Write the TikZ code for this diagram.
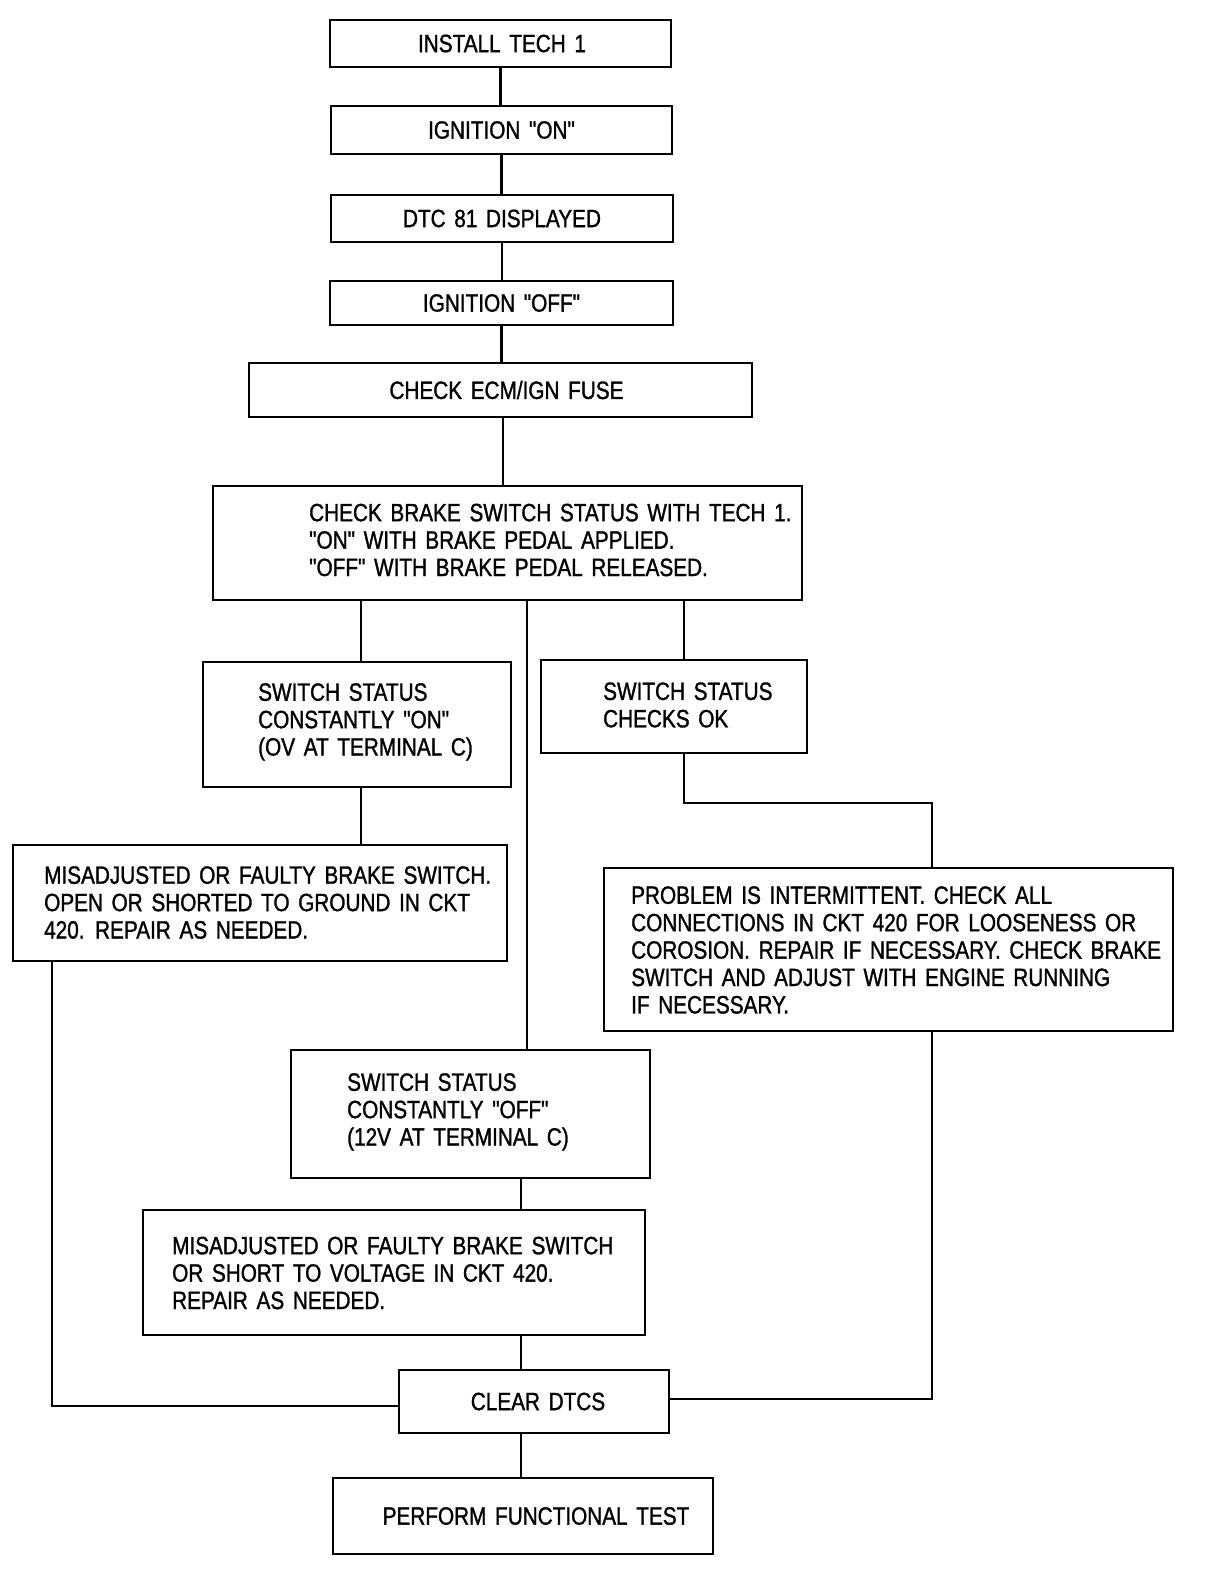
\documentclass[tikz,border=0pt]{standalone}
\usepackage{fontspec}
\setmainfont{Liberation Sans}[FakeStretch=0.83,WordSpace=1.5,Ligatures=TeXOff,FakeBold=1.2]
\begin{document}
\begin{tikzpicture}[x=1pt,y=-1pt,
  box/.style={draw, line width=2.7pt, inner sep=0pt, rectangle, font=\fontsize{25}{27.4}\selectfont},
  txt/.style={inner sep=0pt, align=left, anchor=west, font=\fontsize{25}{27.4}\selectfont},
  link/.style={line width=2.3pt}]
\useasboundingbox[fill=white] (0,0) rectangle (1216,1588);
% single-line boxes
\node[box, minimum width=341pt, minimum height=47pt] (b1) at (500.5,43.5) {\hspace*{3pt}INSTALL TECH 1};
\node[box, minimum width=341pt, minimum height=48pt] (b2) at (501.5,130) {IGNITION "ON"};
\node[box, minimum width=342pt, minimum height=47pt] (b3) at (502,218.5) {DTC 81 DISPLAYED};
\node[box, minimum width=343pt, minimum height=44pt] (b4) at (501.5,303) {IGNITION "OFF"};
\node[box, minimum width=503pt, minimum height=54pt] (b5) at (500.5,390) {\hspace*{12pt}CHECK ECM/IGN FUSE};
% multi-line boxes
\node[box, minimum width=589pt, minimum height=114pt] (b6) at (507.5,543) {};
\node[txt] (t6) at (309,540) {CHECK BRAKE SWITCH STATUS WITH TECH 1.\\"ON" WITH BRAKE PEDAL APPLIED.\\"OFF" WITH BRAKE PEDAL RELEASED.};
\node[box, minimum width=308pt, minimum height=125pt] (b7) at (357,724.5) {};
\node[txt] (t7) at (258,722) {SWITCH STATUS\\CONSTANTLY "ON"\\(OV AT TERMINAL C)};
\node[box, minimum width=266pt, minimum height=93pt] (b8) at (674,706.5) {};
\node[txt] (t8) at (603,705) {SWITCH STATUS\\CHECKS OK};
\node[box, minimum width=494pt, minimum height=116pt] (b9) at (260,903) {};
\node[txt] (t9) at (44,902.5) {MISADJUSTED OR FAULTY BRAKE SWITCH.\\OPEN OR SHORTED TO GROUND IN CKT\\420. REPAIR AS NEEDED.};
\node[box, minimum width=569pt, minimum height=163pt] (b10) at (888.5,949.5) {};
\node[txt] (t10) at (631,950) {PROBLEM IS INTERMITTENT. CHECK ALL\\CONNECTIONS IN CKT 420 FOR LOOSENESS OR\\COROSION. REPAIR IF NECESSARY. CHECK BRAKE\\SWITCH AND ADJUST WITH ENGINE RUNNING\\IF NECESSARY.};
\node[box, minimum width=359pt, minimum height=128pt] (b11) at (470.5,1114) {};
\node[txt] (t11) at (347,1112) {SWITCH STATUS\\CONSTANTLY "OFF"\\(12V AT TERMINAL C)};
\node[box, minimum width=502pt, minimum height=125pt] (b12) at (394,1272.5) {};
\node[txt] (t12) at (172,1273) {MISADJUSTED OR FAULTY BRAKE SWITCH\\OR SHORT TO VOLTAGE IN CKT 420.\\REPAIR AS NEEDED.};
\node[box, minimum width=270pt, minimum height=63pt] (b13) at (534,1401.5) {\hspace*{8pt}CLEAR DTCS};
\node[box, minimum width=380pt, minimum height=76pt] (b14) at (523,1516) {\hspace*{26pt}PERFORM FUNCTIONAL TEST};
% connector x positions
\coordinate (cA) at (361,0);
\coordinate (cB) at (527,0);
\coordinate (cC) at (684,0);
\coordinate (cD) at (932,0);
\coordinate (cE) at (52,0);
\coordinate (cF) at (521,0);
\coordinate (cG) at (503,0);
\coordinate (k1) at (684,803);
\coordinate (k2) at (932,803);
\coordinate (k3) at (52,1406);
\coordinate (k4) at (932,1399);
% connectors
\draw[link] (b1.south) -- (b1.south |- b2.north);
\draw[link] (b2.south) -- (b2.south |- b3.north);
\draw[link] (b3.south) -- (b3.south |- b4.north);
\draw[link] (b4.south) -- (b4.south |- b5.north);
\draw[link] (b5.south -| cG) -- (b6.north -| cG);
\draw[link] (b6.south -| cA) -- (b7.north -| cA);
\draw[link] (b6.south -| cB) -- (b11.north -| cB);
\draw[link] (b6.south -| cC) -- (b8.north -| cC);
\draw[link] (b7.south -| cA) -- (b9.north -| cA);
\draw[link] (b8.south -| cC) -- (k1) -- (k2) -- (b10.north -| cD);
\draw[link] (b9.south -| cE) -- (k3) -- (b13.west |- k3);
\draw[link] (b10.south -| cD) -- (k4) -- (b13.east |- k4);
\draw[link] (b11.south -| cF) -- (b12.north -| cF);
\draw[link] (b12.south -| cF) -- (b13.north -| cF);
\draw[link] (b13.south -| cF) -- (b14.north -| cF);
\end{tikzpicture}
\end{document}
